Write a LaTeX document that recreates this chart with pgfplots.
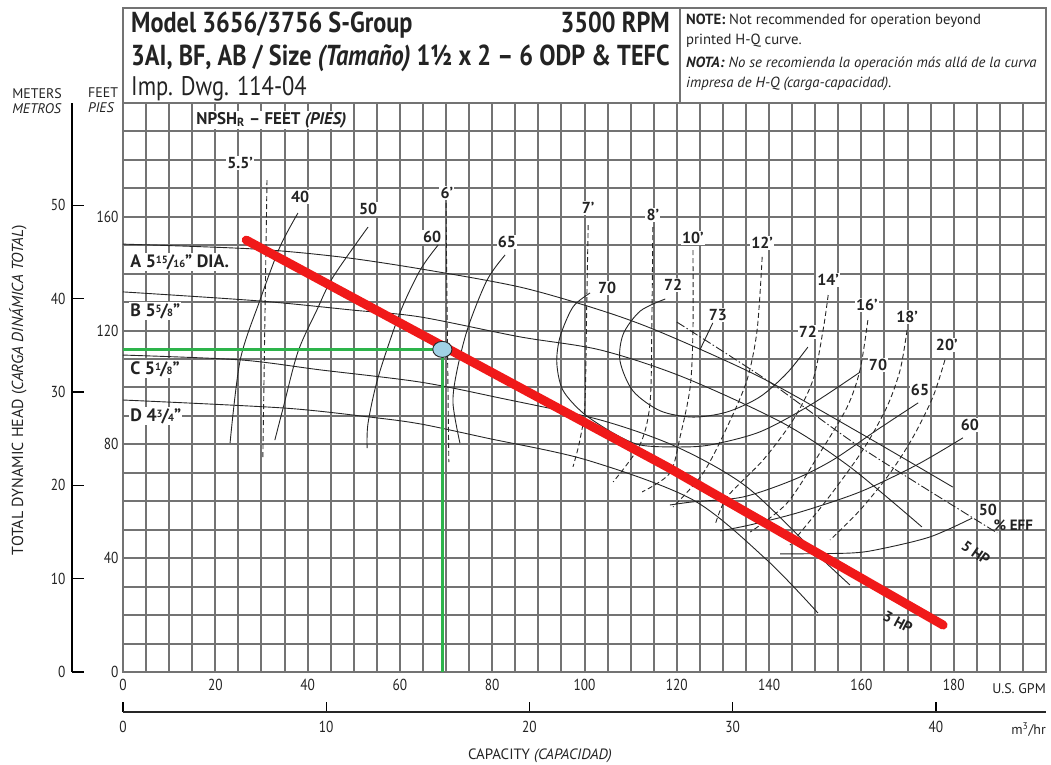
\documentclass[border=0pt]{standalone}
\usepackage{fontspec}
\setmainfont{PT Sans}
\newfontfamily\cf{PT Sans}[FakeStretch=0.84, Ligatures=TeX]
\usepackage{pgfplots}
\pgfplotsset{compat=1.18}
\definecolor{gridc}{RGB}{115,115,115}
\definecolor{redl}{RGB}{240,25,25}
\definecolor{greenl}{RGB}{45,180,75}
\definecolor{bluept}{RGB}{160,210,230}
\definecolor{txt}{RGB}{35,35,35}
\newcommand{\fr}[2]{\raisebox{0.45ex}{\fontsize{10.5}{10.5}\selectfont #1}\kern-0.05em/\kern-0.05em{\fontsize{10.5}{10.5}\selectfont #2}}
\begin{document}
\begin{tikzpicture}[x=1bp,y=1bp]
\useasboundingbox (-123,-93) rectangle (928,672);
\begin{axis}[at={(0bp,0bp)}, anchor=south west, width=923bp, height=569bp, scale only axis,
 xmin=0,xmax=200,ymin=0,ymax=200,
 xtick={0,20,...,180}, ytick={0,40,...,160},
 minor xtick={0,5,...,200}, minor ytick={0,10,...,200},
 grid=both, major grid style={gridc, line width=2bp}, minor grid style={gridc, line width=2bp},
 axis line style={gridc, line width=2bp},
 major tick length=0pt, minor tick length=0pt,
 ticklabel style={font=\cf\fontsize{16}{16}\selectfont, text=txt},
 /pgf/number format/assume math mode=true,
 xticklabel style={yshift=-4bp}, yticklabel style={xshift=-1bp},
 clip=false,
 every axis plot/.append style={black!85, line width=0.9bp},
]
% impeller curves
\addplot[smooth, tension=0.5] coordinates {(0,150.4)(28.2,148.7)(47.0,145.9)(64.4,141.7)(86.0,135.3)(103.4,127.2)(116.4,119.5)(138.0,103.7)(159.7,84.0)(179.8,65.0)};
\addplot[smooth, tension=0.5] coordinates {(0,133.6)(29.7,130.4)(49.8,127.2)(64.4,124.8)(86.0,117.8)(103.4,113.2)(121.3,103.7)(143.0,87.5)(157.5,72.1)(173.1,51.0)};
\addplot[smooth, tension=0.5] coordinates {(0,111.4)(25.4,109.7)(42.7,106.2)(64.4,101.9)(81.7,96.3)(103.4,88.6)(120.0,79.1)(135.2,65.0)(151.0,40.4)(157.5,30.6)};
\addplot[smooth, tension=0.5] coordinates {(0,95.6)(34.7,92.8)(53.5,89.6)(64.4,87.2)(78.9,82.2)(100.5,74.5)(123.5,60.5)(139.5,39.4)(150.6,20.7)};
% efficiency curves
\addplot[smooth] coordinates {(37.9,161.3)(34.0,149.4)(29.7,130.8)(25.4,109.7)(23.2,80.5)};
\addplot[smooth] coordinates {(53.1,156.4)(45.5,138.8)(42.0,127.2)(37.9,112.5)(34.7,92.8)(32.9,81.5)};
\addplot[smooth] coordinates {(68.3,150.1)(64.4,141.3)(60.0,126.2)(55.3,103.7)(53.1,87.5)(52.9,78.7)};
\addplot[smooth] coordinates {(82.8,146.6)(78.9,137.8)(74.8,121.3)(72.4,106.2)(71.5,94.6)(73.0,80.5)};
\addplot[smooth] coordinates {(101.2,133.2)(97.5,128.3)(94.7,117.8)(94.0,108.6)(95.3,99.1)(99.7,91.0)(106.2,84.0)(112.0,79.8)(120.0,79.1)(127.2,79.8)(138.0,84.4)(148.9,93.8)(159.7,105.4)};
\addplot[smooth] coordinates {(117.5,131.1)(112.1,126.9)(108.4,118.8)(107.7,109.3)(110.5,98.8)(116.4,91.8)(123.5,89.6)(130.9,91.4)(138.0,96.7)(143.9,105.1)(148.4,114.2)};
\addplot[black!85] coordinates {(127.8,122.7)(125.0,113.2)};
\addplot[smooth] coordinates {(172.3,94.6)(163.4,85.1)(153.8,74.5)(145.2,67.5)(134.3,61.5)(123.5,59.8)(118.5,58.7)};
\addplot[smooth] coordinates {(182.0,82.3)(172.0,72.8)(159.7,63.3)(146.7,56.2)(135.9,51.7)(129.4,49.6)};
\addplot[smooth] coordinates {(184.0,54.1)(174.9,47.5)(164.0,43.2)(157.5,41.8)(142.4,41.5)};
% NPSH curves
\pgfplotsset{npsh/.style={smooth, dash pattern=on 5bp off 3bp}}
\addplot[npsh] coordinates {(31.2,172.9)(30.3,75.2)};
\addplot[npsh] coordinates {(70.0,164.9)(70.2,130.8)(70.6,73.8)};
\addplot[npsh] coordinates {(100.8,157.1)(100.5,130.8)(100.1,94.6)(99.0,81.5)(97.5,72.1)};
\addplot[npsh] coordinates {(114.8,156.4)(114.6,123.7)(114.2,94.6)(112.0,79.8)(106.2,66.8)};
\addplot[npsh] coordinates {(123.5,148.3)(123.5,120.2)(122.9,100.2)(120.7,82.6)(118.5,69.9)(112.5,63.3)};
\addplot[npsh] coordinates {(138.5,145.9)(137.4,120.2)(135.2,102.6)(130.9,86.1)(125.7,69.9)(119.2,58.0)};
\addplot[npsh] coordinates {(152.8,132.5)(151.7,120.2)(149.5,102.6)(145.2,88.6)(138.7,74.5)(130.9,61.5)(128.3,51.7)};
\addplot[npsh] coordinates {(161.4,123.7)(159.7,106.2)(156.9,93.1)(151.0,77.0)(143.9,59.4)(135.9,49.2)};
\addplot[npsh] coordinates {(169.9,120.2)(168.4,106.2)(165.5,93.1)(160.3,78.0)(152.5,60.5)(144.5,44.6)};
\addplot[npsh] coordinates {(178.1,109.7)(175.5,96.7)(171.2,82.6)(166.2,69.9)(159.7,56.9)(153.2,46.4)};
% 5 HP
\addplot[smooth, dash pattern=on 9bp off 2.5bp on 1.5bp off 2.5bp] coordinates {(120.0,123.0)(139.5,102.6)(159.7,79.1)(189.4,48.9)};
% labels
\begin{scope}[every node/.style={fill=white, inner sep=1.2bp, text=txt, font=\bfseries\fontsize{16}{16}\selectfont}]
\node at (axis cs:25.4,178.9) {5.5'};
\node at (axis cs:38.4,167.0) {40};
\node at (axis cs:53.1,162.7) {50};
\node at (axis cs:70.2,168.4) {6'};
\node at (axis cs:67.0,152.9) {60};
\node at (axis cs:83.2,151.1) {65};
\node at (axis cs:100.8,163.1) {7'};
\node at (axis cs:114.8,160.6) {8'};
\node at (axis cs:123.5,152.5) {10'};
\node at (axis cs:138.5,150.8) {12'};
\node at (axis cs:104.9,135.0) {70};
\node at (axis cs:119.2,136.0) {72};
\node at (axis cs:128.9,125.5) {73};
\node at (axis cs:152.8,137.8) {14'};
\node at (axis cs:161.2,129.0) {16'};
\node at (axis cs:169.9,124.8) {18'};
\node at (axis cs:178.5,114.9) {20'};
\node at (axis cs:148.4,119.5) {72};
\node at (axis cs:163.6,107.9) {70};
\node at (axis cs:172.7,99.1) {65};
\node at (axis cs:183.5,86.8) {60};
\node at (axis cs:187.4,56.8) {50};
\node[anchor=west, fill=none, inner sep=0pt, font=\bfseries\fontsize{15}{15}\selectfont] at (axis cs:188.6,51.6) {\% EFF};
\node[rotate=-35, fill=none, inner sep=0pt, font=\bfseries\fontsize{15}{15}\selectfont] at (axis cs:184.8,42.0) {5 HP};
\node[rotate=-28, fill=none, inner sep=0pt, font=\bfseries\fontsize{15}{15}\selectfont] at (axis cs:167.9,17.6) {3 HP};
\node[anchor=west, font=\bfseries\fontsize{18}{18}\selectfont] at (axis cs:1.3,144.1) {A 5\fr{15}{16}" DIA.};
\node[anchor=west, font=\bfseries\fontsize{18}{18}\selectfont] at (axis cs:1.3,126.9) {B 5\fr{5}{8}"};
\node[anchor=west, font=\bfseries\fontsize{18}{18}\selectfont] at (axis cs:1.3,106.5) {C 5\fr{1}{8}"};
\node[anchor=west, font=\bfseries\fontsize{18}{18}\selectfont] at (axis cs:1.3,90.0) {D 4\fr{3}{4}"};
\node[anchor=west, font=\bfseries\fontsize{17}{17}\selectfont] at (axis cs:15.6,194.0) {NPSH\textsubscript{R} – FEET \textit{(PIES)}};
\end{scope}
% operating point
\addplot[greenl, line width=3.5bp] coordinates {(0,113.4)(69.2,113.4)};
\addplot[greenl, line width=3.5bp] coordinates {(69.2,113.4)(69.2,0)};
\addplot[redl, line width=9bp, line cap=round] coordinates {(26.7,151.8)(117.9,72.1)(177.7,16.5)};
\addplot[only marks, mark=*, mark size=8bp, mark options={fill=bluept, draw=none, xscale=1.2}] coordinates {(69.2,113.4)};
\end{axis}
% meters axis
\begin{axis}[at={(-51bp,0bp)}, anchor=south west, width=1bp, height=569bp, scale only axis,
 xmin=0,xmax=1, ymin=0, ymax=60.96, axis y line*=left, hide x axis,
 ytick={0,10,...,50}, tick align=inside, major tick length=12bp,
 axis line style={black, line width=1.5bp, -}, tick style={black, line width=1.3bp},
 ticklabel style={font=\cf\fontsize{16}{16}\selectfont, text=txt},
 /pgf/number format/assume math mode=true, yticklabel style={xshift=-3bp}]
\end{axis}
% m3/hr axis
\begin{axis}[at={(0bp,-40bp)}, anchor=south west, width=923bp, height=1bp, scale only axis,
 xmin=0,xmax=45.42, ymin=0, ymax=1, axis x line*=bottom, hide y axis,
 xtick={0,10,...,40}, tick align=inside, major tick length=10bp,
 axis line style={black!85, line width=1.5bp, -}, tick style={black, line width=1.3bp},
 ticklabel style={font=\cf\fontsize{16}{16}\selectfont, text=txt},
 /pgf/number format/assume math mode=true, xticklabel style={yshift=-6bp}]
\end{axis}
% title box
\draw[gridc, line width=2bp] (0,569) rectangle (923,664);
\draw[gridc, line width=2bp] (557,569) -- (557,664);
\begin{scope}[every node/.style={inner sep=0pt, text=txt}]
\node[anchor=base west, font=\cf\bfseries\fontsize{29}{29}\selectfont] at (8,639) {Model 3656/3756 S-Group};
\node[anchor=base east, font=\cf\bfseries\fontsize{29}{29}\selectfont] at (547,639) {3500 RPM};
\node[anchor=base west, font=\cf\bfseries\fontsize{29}{29}\selectfont] at (8,606) {3AI, BF, AB / Size \textit{(Tamaño)} 1½ x 2 – 6 ODP \& TEFC};
\node[anchor=base west, font=\cf\fontsize{27}{27}\selectfont] at (8,576) {Imp. Dwg. 114-04};
\node[anchor=base west, font=\fontsize{14.8}{14.8}\selectfont] at (563,647) {\textbf{NOTE:} Not recommended for operation beyond};
\node[anchor=base west, font=\fontsize{14.8}{14.8}\selectfont] at (563,627) {printed H-Q curve.};
\node[anchor=base west, font=\fontsize{14.8}{14.8}\selectfont\itshape] at (563,604) {\textbf{NOTA:} No se recomienda la operación más allá de la curva};
\node[anchor=base west, font=\fontsize{14.8}{14.8}\selectfont\itshape] at (563,584) {impresa de H-Q (carga-capacidad).};
\node[anchor=base east, font=\fontsize{14}{14}\selectfont] at (923,-22) {U.S. GPM};
\node[anchor=base east, font=\fontsize{14}{14}\selectfont] at (923,-63) {m\textsuperscript{3}/hr};
\node[anchor=base, font=\fontsize{15}{15}\selectfont] at (417,-88) {CAPACITY \textit{(CAPACIDAD)}};
\node[rotate=90, font=\fontsize{16}{16}\selectfont] at (-105,282) {TOTAL DYNAMIC HEAD (\textit{CARGA DINÁMICA TOTAL})};
\node[anchor=north east, align=right, font=\fontsize{14}{15}\selectfont] at (-61,584) {METERS\\\textit{METROS}};
\node[anchor=north west, align=left, font=\fontsize{14}{15}\selectfont] at (-35,584) {FEET\\\textit{PIES}};
\end{scope}
\end{tikzpicture}
\end{document}
